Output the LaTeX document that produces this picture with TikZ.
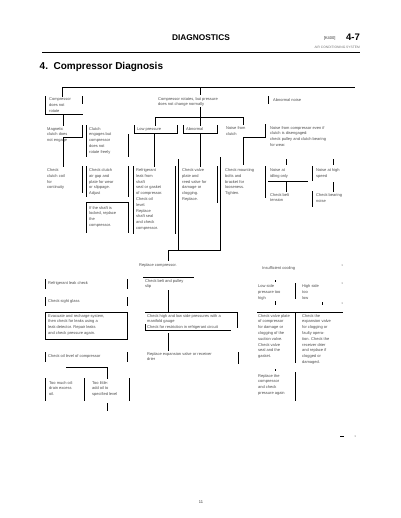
\documentclass[tikz,border=0pt]{standalone}
\usepackage{fontspec}
\setmainfont{Liberation Sans}
\tikzset{
  ln/.style={line width=1pt, line cap=rect},
  tk/.style={line width=0.7pt},
  txt/.style={anchor=north west, inner sep=0pt, align=left, font=\fontsize{4}{5.8}\selectfont, text=black!70},
  frame/.style={draw=none, inner sep=0pt, outer sep=0pt, anchor=north west},
}
\newcommand{\bx}[5]{\node[frame, minimum width=#4pt, minimum height=#5pt] (#1) at (#2,#3) {};}
\begin{document}
\begin{tikzpicture}[x=1pt,y=-1pt]
\useasboundingbox (0,0) rectangle (400,518);
\fill[white] (0,0) rectangle (400,518);
% header
\node[font=\bfseries\fontsize{8.3}{10}\selectfont] (hd) at (201,38) {DIAGNOSTICS};
\node[font=\fontsize{4}{5}\selectfont, anchor=east, text=black!80] (code) at (339,38.5) {[K400]};
\node[font=\bfseries\fontsize{9.5}{11}\selectfont, anchor=west, inner sep=0pt] (pg) at (346,37.5) {4-7};
\node[font=\fontsize{3.3}{4}\selectfont, anchor=east, inner sep=0pt, text=black!55] (sub) at (360,47) {AIR CONDITIONING SYSTEM};
\coordinate (r0) at (42,52); \coordinate (r1) at (360,52);
\draw[line width=0.9pt] (r0) -- (r1);
\node[font=\bfseries\fontsize{10}{12}\selectfont, anchor=west, inner sep=0pt] (title) at (39.5,67) {4.\ \ Compressor Diagnosis};

% top tree line
\coordinate (t0) at (62,88); \coordinate (t1) at (354,88); \coordinate (tc) at (200,88);
\draw[ln] (t0) -- (t1);

% level 1
\bx{A}{45}{97}{37}{18}
\draw[ln] (A.north west) -- (A.south west) -- (A.south east);
\draw[ln] (A.north east) -- ++(0,7);
\draw[ln] (t0) -- (t0 |- A.north);
\node[txt] (At) at ([shift={(4pt,-1pt)}]A.north west) {Compressor\\does not\\rotate};

\node[txt] (CT) at (158,97) {Compressor rotates, but pressure\\does not change normally};
\coordinate (m0) at (200,118);
\draw[ln] (tc) -- (200,95);
\draw[ln] (200,108) -- (m0);
\draw[ln] (155,118) -- (243,118);

\node[txt] (H) at (273,98) {Abnormal noise};
\draw[ln] (268,97) -- (268,104);

% level 2
\bx{B}{45}{126}{37}{12}
\node[txt] (Bt) at ([shift={(2pt,-1pt)}]B.north west) {Magnetic\\clutch does\\not engage};
\draw[ln] (B.south) -- (B.south east) -- (B.north east);
\draw[ln] (A.south) -- (A.south |- B.north);

\bx{C}{86}{126}{42}{31}
\draw[ln] (C.north west) -- (C.south west);
\draw[ln] ([yshift=-9pt]C.north east) -- (C.south east);
\node[txt] (Ct) at ([shift={(3pt,-1pt)}]C.north west) {Clutch\\engages but\\compressor\\does not\\rotate freely};

\bx{D}{134}{126}{43}{8}
\draw[ln] (D.north west) -- (D.south west) -- (D.south east) -- (D.north east);
\draw[ln] (D.north |- m0) -- (D.north);
\node[txt] (Dt) at ([shift={(3pt,-1.5pt)}]D.north west) {Low pressure};

\bx{E}{183}{126}{34}{8}
\draw[ln] (E.north west) -- (E.south west) -- (E.south east) -- (E.north east);
\draw[ln] (E.north |- m0) -- (E.north);
\node[txt] (Et) at ([shift={(3pt,-1.5pt)}]E.north west) {Abnormal};

\bx{F}{225}{125}{40}{13}
\draw[ln] (F.south east) -- (F.north east);
\draw[ln] (243,138) -- (F.south east);
\draw[ln] (243,118) -- (243,125);
\node[txt] (Ft) at ([shift={(1pt,-1.5pt)}]F.north west) {Noise from\\clutch};

\node[txt] (G) at (270,126) {Noise from compressor even if\\clutch is disengaged:\\check pulley and clutch bearing\\for wear.};
\draw[ln] (286,160) -- (286,165);
\draw[ln] (333,160) -- (333,165);

% level 3
\bx{B3}{45}{167}{37}{26}
\draw[ln] (B3.north east) -- (B3.south east);
\draw[ln] (B.south) -- (B.south |- B3.north);
\node[txt] (B3t) at ([shift={(2pt,-1.5pt)}]B3.north west) {Check\\clutch coil\\for\\continuity};

\bx{C3}{86}{167}{42}{30}
\draw[ln] (C3.north west) -- (C3.south west);
\draw[ln] (C3.north east) -- (C3.south east);
\node[txt] (C3t) at ([shift={(3pt,-1.5pt)}]C3.north west) {Check clutch\\air gap and\\plate for wear\\or slippage.\\Adjust};

\bx{C4}{86}{203}{42}{29}
\draw[ln] (C4.south west) -- (C4.north west) -- (C4.north east) -- (C4.south east);
\node[txt] (C4t) at ([shift={(3pt,-3pt)}]C4.north west) {If the shaft is\\locked, replace\\the\\compressor.};

\bx{D3}{133}{167}{42}{66}
\draw[ln] (D3.north west) -- (D3.south west);
\draw[ln] (D3.north east) -- (D3.south east);
\draw[ln] (D.south -| D3.north) -- (D3.north);
\node[txt] (D3t) at ([shift={(3pt,-1.5pt)}]D3.north west) {Refrigerant\\leak from\\shaft\\seal or gasket\\of compressor.\\Check oil\\level.\\Replace\\shaft seal\\and check\\compressor.};

\bx{E3}{178}{167}{39}{36}
\draw[ln] (178,160) -- (178,250);
\draw[ln] (E3.north east) -- (E3.south east);
\draw[ln] (E.south) -- (E.south |- E3.north);
\node[txt] (E3t) at ([shift={(4pt,-1.5pt)}]E3.north west) {Check valve\\plate and\\reed valve for\\damage or\\clogging.\\Replace.};

\bx{F3}{220}{167}{45}{31}
\draw[ln] (220,158) -- (220,250);
\draw[ln] (F3.north east) -- (F3.south east);
\draw[ln] (243,138) -- (243,165);
\node[txt] (F3t) at ([shift={(5pt,-1.5pt)}]F3.north west) {Check mounting\\bolts and\\bracket for\\looseness.\\Tighten.};

\coordinate (j) at (168,250);
\draw[ln] (j) -- (220,250);
\draw[ln] (j) -- (168,260);
\node[txt, anchor=north] (RC) at (158,263) {Replace compressor.};

\bx{G3a}{268}{167}{39}{15}
\draw[ln] (G3a.south west) -- (G3a.south east);
\draw[ln] (286,182) -- (286,192);
\node[txt] (G3at) at ([shift={(2pt,-1.5pt)}]G3a.north west) {Noise at\\idling only};

\bx{G3b}{312}{167}{35}{14}
\draw[ln] (G3b.north west) -- (G3b.south west);
\draw[ln] (333,183) -- (333,192);
\node[txt] (G3bt) at ([shift={(4pt,-1.5pt)}]G3b.north west) {Noise at high\\speed};

\node[txt] (G4a) at (270,193) {Check belt\\tension};
\bx{G4b}{312}{192}{35}{15}
\draw[ln] (G4b.north west) -- (G4b.south west);
\node[txt] (G4bt) at ([shift={(4pt,-1.5pt)}]G4b.north west) {Check bearing\\noise};

% lower left column
\bx{L1}{45}{279}{82}{9}
\draw[ln] (L1.north west) -- (L1.south west); \draw[ln] (L1.north east) -- (L1.south east);
\node[txt] (L1t) at ([shift={(3pt,-2.5pt)}]L1.north west) {Refrigerant leak check};

\bx{L2}{45}{297}{82}{8}
\draw[ln] (L2.north west) -- (L2.south west); \draw[ln] (L2.north east) -- (L2.south east);
\node[txt] (L2t) at ([shift={(3pt,-2pt)}]L2.north west) {Check sight glass};

\bx{L3}{45}{312}{82}{27}
\draw[ln] (L3.north west) rectangle (L3.south east);
\node[txt] (L3t) at ([shift={(3pt,-2pt)}]L3.north west) {Evacuate and recharge system,\\then check for leaks using a\\leak detector. Repair leaks\\and check pressure again.};

\bx{L4}{45}{352}{82}{9}
\draw[ln] (L4.north west) -- (L4.south west); \draw[ln] (L4.north east) -- (L4.south east);
\node[txt] (L4t) at ([shift={(3pt,-2.5pt)}]L4.north west) {Check oil level of compressor};

\coordinate (k0) at (66,367); \coordinate (k1) at (107,367);
\draw[ln] (k0) -- (k1) -- (107,378);

\bx{L5a}{45}{378}{39}{22}
\draw[ln] (L5a.north west) -- (L5a.south west); \draw[ln] (L5a.north east) -- (L5a.south east);
\node[txt] (L5at) at ([shift={(4pt,-3pt)}]L5a.north west) {Too much oil:\\drain excess\\oil.};

\bx{L5b}{84}{378}{45}{22}
\draw[ln] (L5b.north east) -- (L5b.south east);
\node[txt] (L5bt) at ([shift={(8pt,-3pt)}]L5b.north west) {Too little:\\add oil to\\specified level};
\draw[ln] (107,403) -- (107,410);

% lower middle column
\bx{M1}{143}{277}{50}{12}
\draw[ln] (M1.north west) -- (M1.north east);
\node[txt] (M1t) at ([shift={(2pt,-2pt)}]M1.north west) {Check belt and pulley\\slip};
\draw[ln] (168,290) -- (168,312);

\bx{M2}{145}{312}{92}{18}
\draw[ln] (M2.north west) -- (M2.north east) -- ++(0,15);
\draw[ln] (145,324) -- (145,330) -- (230,330);
\node[txt] (M2t) at ([shift={(2pt,-2pt)}]M2.north west) {Check high and low side pressures with a\\manifold gauge\\Check for restriction in refrigerant circuit};
\draw[ln] (168,333) -- (168,350);

\node[txt] (M3) at (147,352) {Replace expansion valve or receiver\\drier};
\draw[ln] (238,352) -- (238,363);

% lower right column
\node[txt] (RH) at (262,266) {Insufficient cooling};
\fill[black!80] (342,265) circle (0.5pt) (342,283) circle (0.5pt) (342,303) circle (0.5pt);

\bx{R1a}{257}{283}{38}{15}
\draw[ln] (R1a.north east) -- (R1a.south east);
\node[txt] (R1at) at ([shift={(1pt,-1.5pt)}]R1a.north west) {Low side\\pressure too\\high};
\node[txt] (R1b) at (302,284.5) {High side\\too\\low};
\draw[tk] (275,280) -- (275,282);
\draw[tk] (275,301) -- (275,305);
\draw[tk] (322,302) -- (322,305);
\draw[ln] (257,312) -- (342,312);

\bx{R2a}{257}{312}{38}{50}
\draw[ln] (R2a.north east) -- (R2a.south east);
\node[txt] (R2at) at ([shift={(1pt,-2pt)}]R2a.north west) {Check valve plate\\of compressor\\for damage or\\clogging of the\\suction valve.\\Check valve\\seal and the\\gasket.};
\node[txt] (R2b) at (302,314) {Check the\\expansion valve\\for clogging or\\faulty opera-\\tion. Check the\\receiver drier\\and replace if\\clogged or\\damaged.};

\bx{R3}{257}{372}{38}{28}
\draw[ln] (R3.north east) -- (R3.south east);
\draw[tk] (275,369) -- (275,371);
\node[txt] (R3t) at ([shift={(1pt,-2pt)}]R3.north west) {Replace the\\compressor\\and check\\pressure again};

% page marks
\draw[tk] (340,436) -- (344,436);
\fill[black!80] (355,436) circle (0.5pt);
\node[font=\fontsize{4}{5}\selectfont, text=black!80] (pn) at (201,502) {11};
\end{tikzpicture}
\end{document}
